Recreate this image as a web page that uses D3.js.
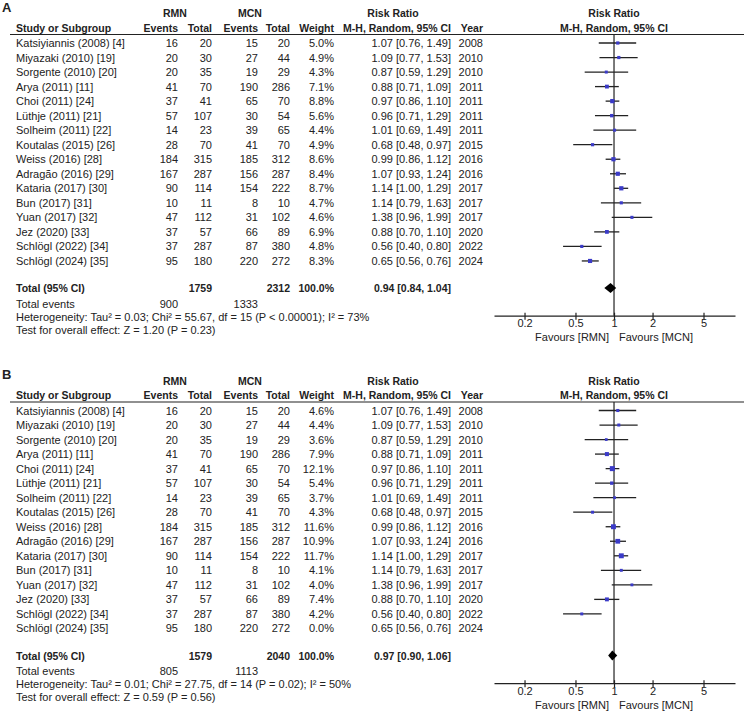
<!DOCTYPE html>
<html>
<head>
<meta charset="utf-8">
<script src="https://cdn.jsdelivr.net/npm/d3@7"></script>
<style>
body { margin: 0; background: #fff; }
svg { font-family: "Liberation Sans", Arial, sans-serif; font-size: 11px; }
text { fill: #222; }
.bold { font-weight: bold; font-size: 10.5px; }
</style>
</head>
<body>
<svg id="chart" width="744" height="711"></svg>
<script>
// data
const studies = ['Katsiyiannis (2008) [4]', 'Miyazaki (2010) [19]', 'Sorgente (2010) [20]', 'Arya (2011) [11]',
    'Choi (2011) [24]', 'Lüthje (2011) [21]', 'Solheim (2011) [22]', 'Koutalas (2015) [26]', 'Weiss (2016) [28]',
    'Adragão (2016) [29]', 'Kataria (2017) [30]', 'Bun (2017) [31]', 'Yuan (2017) [32]', 'Jez (2020) [33]',
    'Schlögl (2022) [34]', 'Schlögl (2024) [35]'];
const rmnEvents = [16, 20, 20, 41, 37, 57, 14, 28, 184, 167, 90, 10, 47, 37, 37, 95];
const rmnTotal = [20, 30, 35, 70, 41, 107, 23, 70, 315, 287, 114, 11, 112, 57, 287, 180];
const mcnEvents = [15, 27, 19, 190, 65, 30, 39, 41, 185, 156, 154, 8, 31, 66, 87, 220];
const mcnTotal = [20, 44, 29, 286, 70, 54, 65, 70, 312, 287, 222, 10, 102, 89, 380, 272];
const rr = [1.07, 1.09, 0.87, 0.88, 0.97, 0.96, 1.01, 0.68, 0.99, 1.07, 1.14, 1.14, 1.38, 0.88, 0.56, 0.65];
const ciLow = [0.76, 0.77, 0.59, 0.71, 0.86, 0.71, 0.69, 0.48, 0.86, 0.93, 1.00, 0.79, 0.96, 0.70, 0.40, 0.56];
const ciHigh = [1.49, 1.53, 1.29, 1.09, 1.10, 1.29, 1.49, 0.97, 1.12, 1.24, 1.29, 1.63, 1.99, 1.10, 0.80, 0.76];
const years = [2008, 2010, 2010, 2011, 2011, 2011, 2011, 2015, 2016, 2016, 2017, 2017, 2017, 2020, 2022, 2024];
const weightsA = [5.0, 4.9, 4.3, 7.1, 8.8, 5.6, 4.4, 4.9, 8.6, 8.4, 8.7, 4.7, 4.6, 6.9, 4.8, 8.3];
const weightsB = [4.6, 4.4, 3.6, 7.9, 12.1, 5.4, 3.7, 4.3, 11.6, 10.9, 11.7, 4.1, 4.0, 7.4, 4.2, 0.0];
const totalsA = [1759, 2312];
const totalsB = [1579, 2040];
const eventsA = [900, 1333];
const eventsB = [805, 1113];
const pooledA = [0.94, 0.84, 1.04];
const pooledB = [0.97, 0.90, 1.06];
const hetA = 'Heterogeneity: Tau² = 0.03; Chi² = 55.67, df = 15 (P < 0.00001); I² = 73%';
const hetB = 'Heterogeneity: Tau² = 0.01; Chi² = 27.75, df = 14 (P = 0.02); I² = 50%';
const testA = 'Test for overall effect: Z = 1.20 (P = 0.23)';
const testB = 'Test for overall effect: Z = 0.59 (P = 0.56)';
const tickVals = [0.2, 0.5, 1, 2, 5];

const panels = [
    {label: 'A', y0: 0, weights: weightsA, totals: totalsA, events: eventsA, pooled: pooledA, het: hetA, test: testA},
    {label: 'B', y0: 367.5, weights: weightsB, totals: totalsB, events: eventsB, pooled: pooledB, het: hetB, test: testB}
];

let svg = d3.select('#chart');
let x = d3.scaleLog().domain([0.1155, 8.81]).range([494, 735]);
let f2 = d3.format('.2f');

// column right edges
let col = {name: 16, rEv: 178, rTot: 212, mEv: 258, mTot: 290, wt: 334, ci: 451, year: 483};

function txt(g, xx, yy, s, anchor, bold) {
    return g.append('text')
        .attr('x', xx).attr('y', yy)
        .attr('text-anchor', anchor || 'start')
        .attr('class', bold ? 'bold' : null)
        .text(s);
}

panels.forEach(p => {
    let g = svg.append('g').attr('transform', `translate(0, ${p.y0})`);
    let rowY = i => 43 + i * 14.53;

    // panel label
    g.append('text').attr('x', 2).attr('y', 11.5)
        .attr('font-weight', 'bold').attr('font-size', '13px').text(p.label);

    // headers
    txt(g, 175, 17, 'RMN', 'middle', true);
    txt(g, 250, 17, 'MCN', 'middle', true);
    txt(g, 393, 17, 'Risk Ratio', 'middle', true);
    txt(g, 614, 17, 'Risk Ratio', 'middle', true);
    txt(g, col.name, 31.5, 'Study or Subgroup', 'start', true);
    txt(g, col.rEv, 31.5, 'Events', 'end', true);
    txt(g, col.rTot, 31.5, 'Total', 'end', true);
    txt(g, col.mEv, 31.5, 'Events', 'end', true);
    txt(g, col.mTot, 31.5, 'Total', 'end', true);
    txt(g, col.wt, 31.5, 'Weight', 'end', true);
    txt(g, col.ci, 31.5, 'M-H, Random, 95% CI', 'end', true);
    txt(g, col.year, 31.5, 'Year', 'end', true);
    txt(g, 614, 31.5, 'M-H, Random, 95% CI', 'middle', true);

    g.append('line').attr('x1', 10).attr('x2', 744).attr('y1', 34.5).attr('y2', 34.5)
        .attr('stroke', '#222').attr('stroke-width', 1.2);

    // study rows
    studies.forEach((s, i) => {
        let yb = rowY(i) + 4;
        txt(g, col.name, yb, s);
        txt(g, col.rEv, yb, rmnEvents[i], 'end');
        txt(g, col.rTot, yb, rmnTotal[i], 'end');
        txt(g, col.mEv, yb, mcnEvents[i], 'end');
        txt(g, col.mTot, yb, mcnTotal[i], 'end');
        txt(g, col.wt, yb, p.weights[i].toFixed(1) + '%', 'end');
        txt(g, col.ci, yb, `${f2(rr[i])} [${f2(ciLow[i])}, ${f2(ciHigh[i])}]`, 'end');
        txt(g, col.year, yb, years[i], 'end');
    });

    // totals
    let yT = 288 + 4;
    txt(g, col.name, yT, 'Total (95% CI)', 'start', true);
    txt(g, col.rTot, yT, p.totals[0], 'end', true);
    txt(g, col.mTot, yT, p.totals[1], 'end', true);
    txt(g, col.wt, yT, '100.0%', 'end', true);
    txt(g, col.ci, yT, `${f2(p.pooled[0])} [${f2(p.pooled[1])}, ${f2(p.pooled[2])}]`, 'end', true);
    txt(g, col.name, 303.5 + 4, 'Total events');
    txt(g, col.rEv, 303.5 + 4, p.events[0], 'end');
    txt(g, col.mEv, 303.5 + 4, p.events[1], 'end');
    txt(g, col.name, 316.5 + 4, p.het);
    txt(g, col.name, 329.5 + 4, p.test);

    // no-effect line
    let axisY = 315.7;
    g.append('line').attr('x1', x(1)).attr('x2', x(1)).attr('y1', 34.5).attr('y2', axisY)
        .attr('stroke', '#222').attr('stroke-width', 1.2);

    // whiskers + squares (skip rows with zero weight)
    let idx = d3.range(studies.length).filter(i => p.weights[i] > 0);
    g.append('g').selectAll('line')
        .data(idx).enter().append('line')
        .attr('x1', i => x(ciLow[i])).attr('x2', i => x(ciHigh[i]))
        .attr('y1', i => rowY(i)).attr('y2', i => rowY(i))
        .attr('stroke', '#222').attr('stroke-width', 1.3);
    g.append('g').selectAll('rect')
        .data(idx).enter().append('rect')
        .attr('x', i => x(rr[i]) - 0.72 * Math.sqrt(p.weights[i]))
        .attr('y', i => rowY(i) - 0.72 * Math.sqrt(p.weights[i]))
        .attr('width', i => 1.44 * Math.sqrt(p.weights[i]))
        .attr('height', i => 1.44 * Math.sqrt(p.weights[i]))
        .attr('fill', '#3b3bc8');

    // pooled diamond
    let dy = 288, dh = 5;
    g.append('path')
        .attr('d', `M${x(p.pooled[1])},${dy} L${x(p.pooled[0])},${dy - dh} L${x(p.pooled[2])},${dy} L${x(p.pooled[0])},${dy + dh} Z`)
        .attr('fill', '#000');

    // axis
    let ax = g.append('g')
        .attr('transform', `translate(0, ${axisY})`)
        .call(d3.axisBottom(x).tickValues(tickVals).tickFormat(d => d).tickSizeOuter(0));
    ax.select('.domain').attr('stroke', '#222').attr('stroke-width', 1.2);
    ax.selectAll('.tick line').attr('y1', -3).attr('y2', 4).attr('stroke', '#222').attr('stroke-width', 1.2);
    ax.selectAll('.tick text').attr('y', 4).attr('dy', '0.71em')
        .attr('font-family', '"Liberation Sans", Arial, sans-serif').attr('font-size', '11px').attr('fill', '#222');

    txt(g, x(1) - 5, 341, 'Favours [RMN]', 'end');
    txt(g, x(1) + 5, 341, 'Favours [MCN]', 'start');
});
</script>
</body>
</html>
